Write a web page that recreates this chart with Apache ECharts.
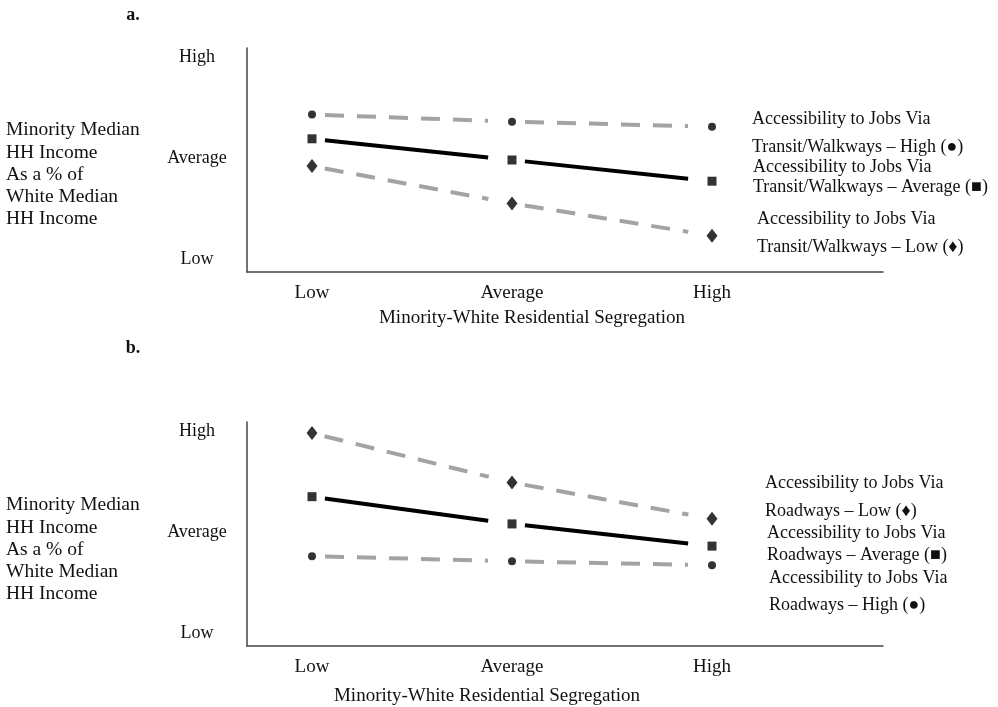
<!DOCTYPE html>
<html>
<head>
<meta charset="utf-8">
<script src="https://cdn.jsdelivr.net/npm/echarts@6/dist/echarts.min.js"></script>
<style>
  html, body { margin: 0; padding: 0; background: #fff; }
  #chart { width: 998px; height: 707px; }
</style>
</head>
<body>
<div id="chart"></div>
<script>
  // category positions on the segregation axis
  var levels = ['Low', 'Average', 'High'];
  var segX = [0, 1, 2];
  var incomeTicks = [0, 1, 2];

  // panel a: accessibility via transit/walkways
  var transitHigh = [1.43, 1.36, 1.31];
  var transitAvg = [1.19, 0.98, 0.77];
  var transitLow = [0.92, 0.55, 0.23];

  // panel b: accessibility via roadways
  var roadLow = [1.98, 1.49, 1.13];
  var roadAvg = [1.35, 1.08, 0.86];
  var roadHigh = [0.76, 0.71, 0.67];

  var legendA = [
    'Accessibility to Jobs Via', 'Transit/Walkways \u2013 High (\u25CF)',
    'Accessibility to Jobs Via', 'Transit/Walkways \u2013 Average (\u25A0)',
    'Accessibility to Jobs Via', 'Transit/Walkways \u2013 Low (\u2666)'
  ];
  var legendB = [
    'Accessibility to Jobs Via', 'Roadways \u2013 Low (\u2666)',
    'Accessibility to Jobs Via', 'Roadways \u2013 Average (\u25A0)',
    'Accessibility to Jobs Via', 'Roadways \u2013 High (\u25CF)'
  ];
  var yTitle = 'Minority Median\nHH Income\nAs a % of\nWhite Median\nHH Income';
  var xTitle = 'Minority-White Residential Segregation';

  var serif = '"Liberation Serif", "Times New Roman", serif';
  var ink = '#111';

  function points(vals) {
    return vals.map(function (v, i) { return [segX[i], v]; });
  }
  function pairs(vals) {
    var out = [];
    for (var i = 0; i < vals.length - 1; i++) {
      out.push([segX[i], vals[i], segX[i + 1], vals[i + 1]]);
    }
    return out;
  }

  // line between two points, pulled back from the markers at both ends
  function lineSeries(vals, idx, dashed) {
    return {
      type: 'custom',
      xAxisIndex: idx,
      yAxisIndex: idx,
      silent: true,
      data: pairs(vals),
      encode: { x: [0, 2], y: [1, 3] },
      renderItem: function (params, api) {
        var a = api.coord([api.value(0), api.value(1)]);
        var b = api.coord([api.value(2), api.value(3)]);
        var dx = b[0] - a[0], dy = b[1] - a[1];
        var len = Math.sqrt(dx * dx + dy * dy);
        var ux = dx / len, uy = dy / len;
        return {
          type: 'line',
          shape: {
            x1: a[0] + ux * 13, y1: a[1] + uy * 13,
            x2: b[0] - ux * 24, y2: b[1] - uy * 24
          },
          style: {
            stroke: dashed ? '#a3a3a3' : '#000',
            lineWidth: 4,
            lineDash: dashed ? [19, 13] : null
          }
        };
      }
    };
  }

  function markSeries(vals, idx, symbol, size) {
    return {
      type: 'scatter',
      xAxisIndex: idx,
      yAxisIndex: idx,
      symbol: symbol,
      symbolSize: size,
      itemStyle: { color: '#000' },
      z: 5,
      data: points(vals)
    };
  }

  function xAxis(idx) {
    return {
      gridIndex: idx,
      type: 'value',
      min: -0.325,
      max: 2.855,
      axisLine: { show: true, onZero: false, lineStyle: { color: '#444', width: 1.5 } },
      axisTick: { show: false },
      splitLine: { show: false },
      axisLabel: {
        customValues: segX,
        formatter: function (v) { return levels[segX.indexOf(v)]; },
        margin: 12,
        fontSize: 19,
        fontFamily: serif,
        color: ink
      }
    };
  }

  function yAxis(idx) {
    return {
      gridIndex: idx,
      type: 'value',
      min: -0.13,
      max: 2.09,
      axisLine: { show: true, onZero: false, lineStyle: { color: '#444', width: 1.5 } },
      axisTick: { show: false },
      splitLine: { show: false },
      axisLabel: {
        customValues: incomeTicks,
        formatter: function (v) { return levels[incomeTicks.indexOf(v)]; },
        align: 'center',
        margin: 50,
        fontSize: 18,
        fontFamily: serif,
        color: ink
      }
    };
  }

  function text(str, x, y, opts) {
    opts = opts || {};
    return {
      type: 'text',
      x: x,
      y: y,
      silent: true,
      style: {
        text: str,
        font: (opts.weight || 'normal') + ' ' + (opts.size || 18) + 'px ' + serif,
        fill: ink,
        textAlign: opts.align || 'left',
        textVerticalAlign: opts.valign || 'middle',
        lineHeight: opts.lineHeight
      }
    };
  }

  var graphics = [
    text('a.', 133, 15, { weight: 'bold', size: 18, align: 'center' }),
    text('b.', 133, 348, { weight: 'bold', size: 18, align: 'center' }),
    text(yTitle, 6, 119, { size: 19.5, valign: 'top', lineHeight: 22.3 }),
    text(yTitle, 6, 494, { size: 19.5, valign: 'top', lineHeight: 22.3 }),
    text(xTitle, 532, 318, { size: 19, align: 'center' }),
    text(xTitle, 487, 696, { size: 19, align: 'center' })
  ];
  var legAx = [752, 752, 753, 753, 757, 757];
  var legAy = [119, 147, 167, 187, 219, 247];
  var legBx = [765, 765, 767, 767, 769, 769];
  var legBy = [483, 511, 533, 555, 578, 605];
  legendA.forEach(function (s, i) { graphics.push(text(s, legAx[i], legAy[i])); });
  legendB.forEach(function (s, i) { graphics.push(text(s, legBx[i], legBy[i])); });

  var chart = echarts.init(document.getElementById('chart'));
  chart.setOption({
    animation: false,
    backgroundColor: '#fff',
    grid: [
      { left: 247, right: 115, top: 48, height: 224 },
      { left: 247, right: 115, top: 422, height: 224 }
    ],
    xAxis: [xAxis(0), xAxis(1)],
    yAxis: [yAxis(0), yAxis(1)],
    graphic: graphics,
    series: [
      lineSeries(transitHigh, 0, true),
      lineSeries(transitAvg, 0, false),
      lineSeries(transitLow, 0, true),
      markSeries(transitHigh, 0, 'circle', 8),
      markSeries(transitAvg, 0, 'rect', 9),
      markSeries(transitLow, 0, 'diamond', [11, 14]),
      lineSeries(roadLow, 1, true),
      lineSeries(roadAvg, 1, false),
      lineSeries(roadHigh, 1, true),
      markSeries(roadLow, 1, 'diamond', [11, 14]),
      markSeries(roadAvg, 1, 'rect', 9),
      markSeries(roadHigh, 1, 'circle', 8)
    ]
  });
</script>
</body>
</html>
